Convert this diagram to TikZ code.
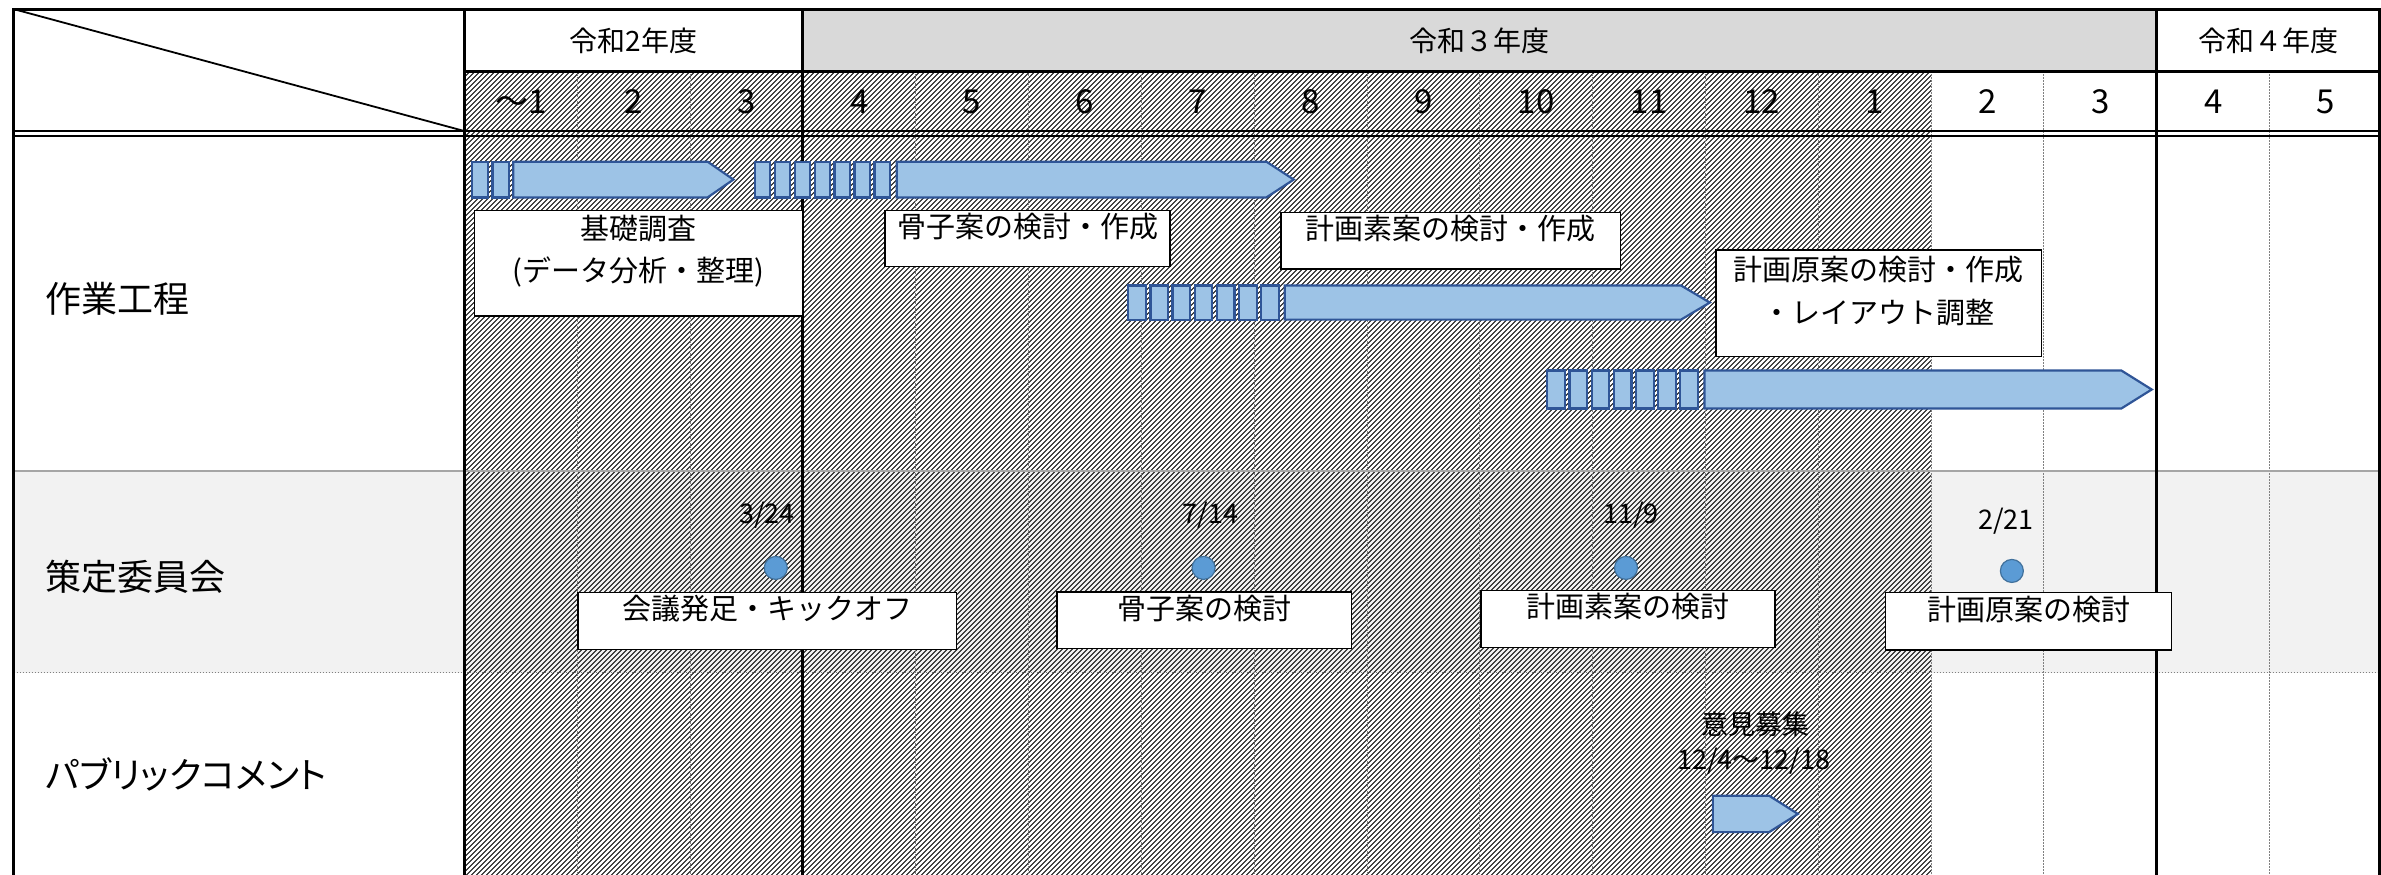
\documentclass[tikz,border=0pt]{standalone}
\usepackage{fontspec}
\setmainfont{Noto Sans CJK JP}
\newfontfamily\palfont[RawFeature=+palt]{Noto Sans CJK JP}
\usetikzlibrary{fit}
\definecolor{barfill}{HTML}{9DC3E6}
\definecolor{barline}{HTML}{2F5597}
\definecolor{dotfill}{HTML}{5B9BD5}
\definecolor{dotline}{HTML}{41719C}
\definecolor{yearfill}{HTML}{D9D9D9}
\definecolor{bandfill}{HTML}{F2F2F2}

\begin{document}
\begin{tikzpicture}[
    x=1.5185pt, y=-1.5185pt,
    thickrule/.style={line width=3pt, black},
    monthrule/.style={line width=0.9pt, gray, dash pattern=on 1.5pt off 1.5pt},
    bar/.style={fill=barfill, draw=barline, line width=2.2pt, line join=miter},
    meeting/.style={circle, fill=dotfill, draw=dotline, line width=1.2pt,
      minimum size=23pt, inner sep=0pt},
    box/.style={draw=black, fill=white, line width=1.6pt, inner sep=0pt,
      align=center, font=\fontsize{29pt}{42.5pt}\selectfont},
    rowlabel/.style={anchor=west, inner sep=0pt,
      font=\palfont\fontsize{36pt}{40pt}\selectfont},
    yearlabel/.style={font=\fontsize{28pt}{32pt}\selectfont},
    monthlabel/.style={font=\fontsize{33pt}{36pt}\selectfont},
    datelabel/.style={font=\fontsize{27pt}{30pt}\selectfont}]

    \useasboundingbox (0,0) rectangle (1568,576);

    \fill[yearfill] (528.7,6) rectangle (1420.3,47);
    \fill[bandfill] (9,310) rectangle (1567,443);

    % hatched months
    \begin{scope}
      \clip (305.8,47) rectangle (1271.7,580);
      \foreach \k in {0,...,460}
        \draw[line width=1pt] ({-230+3.2927*\k},580) -- ++(540,-540);
    \end{scope}

    \foreach \i in {1,2,4,5,6,7,8,9,10,11,12,13,14,16}
      \draw[monthrule] ({305.8+74.3*\i},47) -- ({305.8+74.3*\i},580);
    \draw[gray!70, line width=1.6pt] (9,310) -- (1567,310);
    \draw[monthrule] (9,443) -- (1567,443);
    \draw[thickrule] (305.8,47) -- (1567,47);
    \draw[line width=2.2pt] (9,86.3) -- (1567,86.3) (9,89.4) -- (1567,89.4);
    \draw[thickrule] (305.8,6) -- (305.8,580) (528.7,6) -- (528.7,580)
      (1420.3,6) -- (1420.3,580);
    \draw[thickrule] (9,580) -- (9,6) -- (1567,6) -- (1567,580);
    \draw[line width=1.8pt] (9,6) -- (305.8,86.3);

    \node[yearlabel] (y2) at (417.2,27) {令和2年度};
    \node[yearlabel] (y3) at (974.5,27) {令和３年度};
    \node[yearlabel] (y4) at (1493.6,27) {令和４年度};
    \foreach \m [count=\i from 0] in {～1,2,3,4,5,6,7,8,9,10,11,12,1,2,3,4,5}
      \node[monthlabel] (m\i) at ({305.8+74.3*\i+37.15},67) {\m};

    \node[rowlabel] (work) at (30,197) {作業工程};
    \node[rowlabel] (committee) at (30,380) {策定委員会};
    \node[rowlabel] (comment) at (30,510) {パブリックコメント};

    % work bars
    \foreach \s in {0,1}
      \draw[bar] ({310.6+13.7*\s},106.5) rectangle ++(10.8,23.5);
    \draw[bar] (338,106.5) -- (466,106.5) -- (483,118.25) -- (466,130) -- (338,130) -- cycle;
    \foreach \s in {0,...,6}
      \draw[bar] ({497+13.15*\s},106.5) rectangle ++(10.3,23.5);
    \draw[bar] (590.5,106.5) -- (834,106.5) -- (852,118.25) -- (834,130) -- (590.5,130) -- cycle;
    \foreach \s in {0,...,6}
      \draw[bar] ({743+14.6*\s},188) rectangle ++(11.6,22.5);
    \draw[bar] (846,188) -- (1107,188) -- (1126,199.25) -- (1107,210.5) -- (846,210.5) -- cycle;
    \foreach \s in {0,...,6}
      \draw[bar] ({1019+14.6*\s},244) rectangle ++(11.6,25);
    \draw[bar] (1122.5,244) -- (1397,244) -- (1417,256.5) -- (1397,269) -- (1122.5,269) -- cycle;
    \draw[bar] (1128,524) -- (1165,524) -- (1184,536) -- (1165,548) -- (1128,548) -- cycle;

    \node[box, fit={(312.4,138.7) (528.7,208.1)}] (survey) {基礎調査\\(データ分析・整理)};
    \node[box, fit={(582.7,138.7) (770.6,175.6)}] (outline) {骨子案の検討・作成};
    \node[box, fit={(843.6,140) (1067.2,177)}] (draft) {計画素案の検討・作成};
    \node[box, fit={(1130,164.6) (1344.4,234.9)}] (plan) {計画原案の検討・作成\\・レイアウト調整};

    \node[meeting] (c1) at (510.9,374) {};
    \node[meeting] (c2) at (792.6,374) {};
    \node[meeting] (c3) at (1070.8,374) {};
    \node[meeting] (c4) at (1324.9,376) {};
    \node[datelabel] (d1) at (505,339) {3/24};
    \node[datelabel] (d2) at (797,339) {7/14};
    \node[datelabel] (d3) at (1074,339) {11/9};
    \node[datelabel] (d4) at (1321,343) {2/21};
    \node[box, fit={(380.5,390.3) (630,427.6)}] (kickoff) {会議発足・キックオフ};
    \node[box, fit={(696,390) (890,427)}] (outlinemeet) {骨子案の検討};
    \node[box, fit={(975.2,389) (1169,426.3)}] (draftmeet) {計画素案の検討};
    \node[box, fit={(1241.7,390.3) (1430,428)}] (planmeet) {計画原案の検討};

    \node[datelabel] (call) at (1156,477) {意見募集};
    \node[datelabel] (period) at (1155,501) {12/4～12/18};
\end{tikzpicture}
\end{document}
